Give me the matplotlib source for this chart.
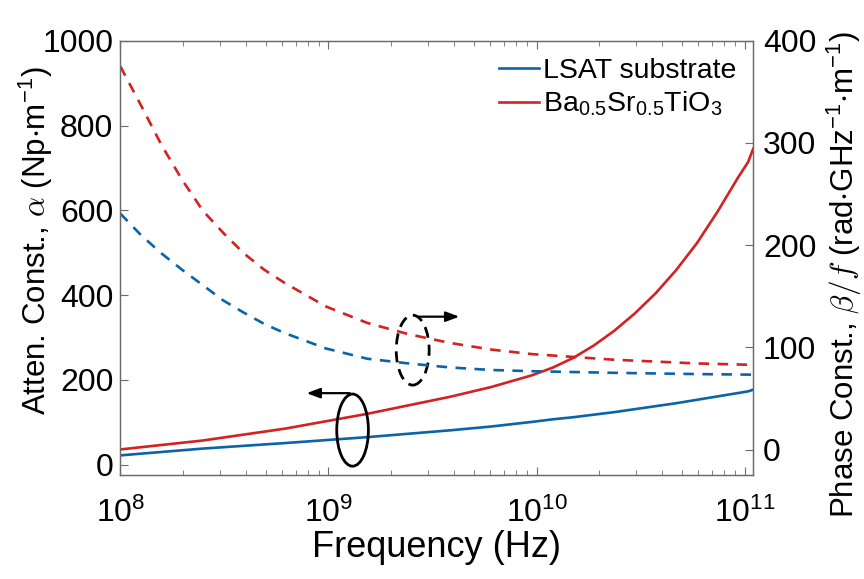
import matplotlib
matplotlib.use("Agg")
import matplotlib.pyplot as plt
from matplotlib.patches import Ellipse
import numpy as np

plt.rcParams['font.family'] = ['Liberation Sans', 'DejaVu Sans']
plt.rcParams['mathtext.fontset'] = 'cm'

# attenuation constant alpha (Np/m), left axis -- log10 of frequency in Hz
log_f_solid = [8.0, 8.396, 8.791, 9.187, 9.583, 9.781, 9.979, 10.078, 10.177, 10.275,
               10.374, 10.473, 10.572, 10.671, 10.770, 10.869, 10.968, 11.017, 11.041]
alpha_lsat = [22, 38, 51, 65, 81, 90, 101, 107, 112, 118,
              124, 131, 138, 145, 153, 161, 169, 173, 177]
alpha_bst = [36, 57, 85, 120, 160, 183, 211, 229, 252, 281,
             316, 357, 404, 459, 522, 596, 677, 714, 745]

# phase constant beta/f (rad/GHz/m), right axis
log_f_dash = [8.0, 8.099, 8.198, 8.297, 8.396, 8.495, 8.594, 8.692, 8.791,
              8.989, 9.187, 9.385, 9.583, 9.781, 9.979, 10.374, 10.770, 11.041]
beta_lsat = [231, 210, 192, 176, 161, 146, 134, 123, 114,
             99, 89, 84.4, 80.5, 78, 76.8, 75.2, 74, 73.4]
beta_bst = [375, 337, 298, 264, 234, 212, 192, 176, 163,
            140, 124, 113, 104.5, 98, 93.5, 88, 84.4, 83]

f_solid = 10.0 ** np.array(log_f_solid)
f_dash = 10.0 ** np.array(log_f_dash)

blue = '#0b64a8'
red = '#d42121'
edge = '#6b6b6b'

fig = plt.figure(figsize=(8.64, 5.79), dpi=100)
ax = fig.add_axes([0.1392, 0.1791, 0.7326, 0.7506])
ax2 = ax.twinx()

l1, = ax.plot(f_solid, alpha_lsat, color=blue, lw=1.9, label='LSAT substrate')
l2, = ax.plot(f_solid, alpha_bst, color=red, lw=1.9,
              label=r'Ba$\mathregular{_{0.5}}$Sr$\mathregular{_{0.5}}$TiO$\mathregular{_3}$')
ax2.plot(f_dash, beta_lsat, color=blue, lw=1.9, ls=(0, (4, 3.2)))
ax2.plot(f_dash, beta_bst, color=red, lw=1.9, ls=(0, (4, 3.2)))

ax.set_xscale('log')
ax.set_xlim(1e8, 1.1e11)
ax.set_ylim(-25, 1000)
ax2.set_ylim(-25, 400)
ax.set_yticks([0, 200, 400, 600, 800, 1000])
ax2.set_yticks([0, 100, 200, 300, 400])

for a in (ax, ax2):
    for s in a.spines.values():
        s.set_color(edge)
        s.set_linewidth(0.9)
ax.tick_params(which='both', direction='in', top=True, right=False,
               color=edge, labelsize=23)
ax.tick_params(axis='x', pad=16)
ax.tick_params(axis='y', pad=5)
ax.tick_params(which='major', length=6)
ax.tick_params(which='minor', length=3.5)
ax2.tick_params(which='both', direction='in', color=edge, labelsize=23, length=6, pad=7)

ax.set_xlabel('Frequency (Hz)', fontsize=26, labelpad=1)
ax.set_ylabel(r'Atten. Const., $\alpha$ ($\mathregular{Np{\cdot}m^{-1}}$)', fontsize=22.5)
ax2.set_ylabel(r'Phase Const., $\beta/f$ ($\mathregular{rad{\cdot}GHz^{-1}{\cdot}m^{-1}}$)',
               fontsize=22.5)
ax.yaxis.set_label_coords(-0.103, 0.539)
ax2.yaxis.set_label_coords(1.113, 0.461)

ax2.legend([l1, l2], [l1.get_label(), l2.get_label()], loc='upper right',
           frameon=False, fontsize=20.5, handlelength=1.4, handletextpad=0.15,
           borderaxespad=0.2, labelspacing=0.2)

# ellipse + arrow markers pointing at each axis
ax.add_patch(Ellipse((0.367, 0.104), 0.050, 0.166, transform=ax.transAxes,
                     fill=False, ec='black', lw=2.0, zorder=5))
ax.annotate('', xy=(0.290, 0.189), xytext=(0.367, 0.189), xycoords='axes fraction',
            arrowprops=dict(arrowstyle='-|>,head_length=0.8,head_width=0.3', color='black', lw=1.6))
ax.add_patch(Ellipse((0.462, 0.288), 0.052, 0.161, transform=ax.transAxes,
                     fill=False, ec='black', lw=2.0, ls=(0, (4, 2.5)), zorder=5))
ax.annotate('', xy=(0.540, 0.365), xytext=(0.467, 0.365), xycoords='axes fraction',
            arrowprops=dict(arrowstyle='-|>,head_length=0.8,head_width=0.3', color='black', lw=1.6))

fig.savefig('out.png', dpi=100)
